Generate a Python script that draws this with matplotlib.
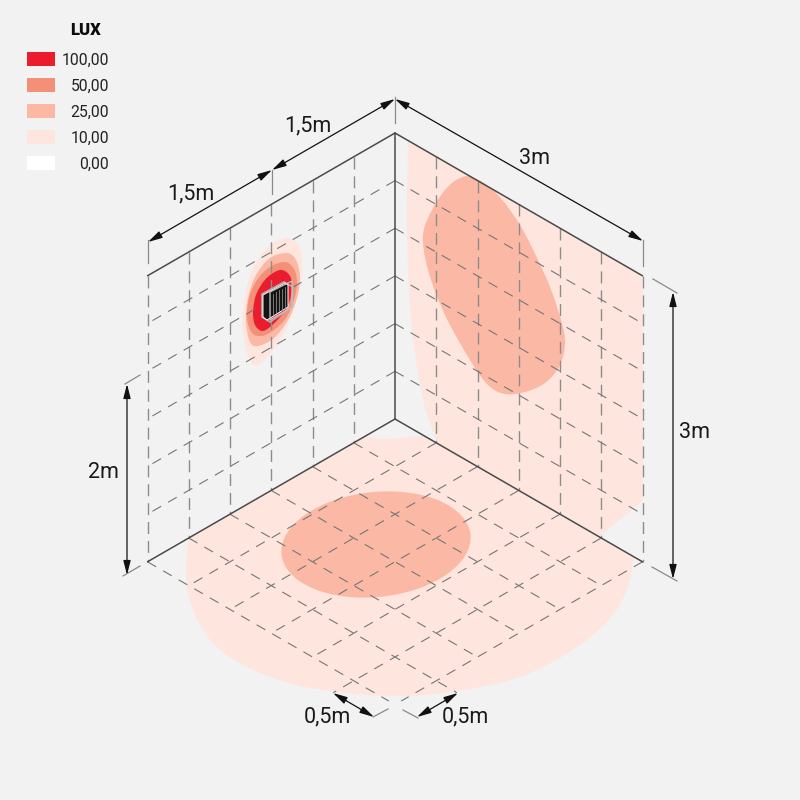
import numpy as np
import matplotlib
matplotlib.use("Agg")
import matplotlib.pyplot as plt
from matplotlib.path import Path
from matplotlib.patches import PathPatch, Rectangle, Ellipse, Polygon

plt.rcParams['font.family'] = ['Roboto', 'DejaVu Sans']

BG = '#F2F2F2'
legend_levels = ['100,00', '50,00', '25,00', '10,00', '0,00']
legend_colors = ['#EA1C2E', '#F48F78', '#FBB9A5', '#FEE6DE', '#FFFFFF']
C100, C50, C25, C10, C0 = legend_colors

# room geometry
apex = (395, 419)
top_apex = (395, 133)
dx, dy, dz = 41.25, 23.8, 47.67
n = 6

def floor(i, j):
    return (apex[0] + (i - j) * dx, apex[1] + (i + j) * dy)

def left_wall(j, k):
    return (apex[0] - j * dx, apex[1] + j * dy - k * dz)

def right_wall(i, k):
    return (apex[0] + i * dx, apex[1] + i * dy - k * dz)

# light outlines (pixels of the reference)
floor10_curve = [(188, 538), (186, 575), (193, 610), (212, 642), (245, 666), (300, 686), (385, 696), (450, 692),
                 (520, 677), (580, 645), (615, 612), (629, 583), (634, 557)]
floor10_edge = [(425, 436)]
floor10_top = [(420, 436), (383, 439), (367, 436)]
wall10_left = [(437, 443), (422, 395), (411, 320), (407, 230), (408, 140)]
wall10_right = [(643, 500), (627, 514), (600, 536)]
wall25 = [(432, 210), (445, 190), (458, 179), (472, 177), (495, 192), (520, 225), (545, 275), (558, 310), (565, 340),
          (560, 365), (545, 383), (525, 392), (505, 394), (488, 385), (470, 360), (445, 315), (428, 270), (423, 235)]
floor25_center = (376, 544.5)
floor25_size = (190, 105)
floor25_angle = -6
spot10 = [(288, 238), (297, 243), (302, 258), (300, 285), (292, 315), (278, 343), (258, 365), (249, 358), (243, 335),
          (243, 310), (250, 275), (265, 250), (277, 241)]
spot25 = [(287, 253), (296, 260), (300, 277), (297, 298), (288, 320), (274, 338), (258, 346), (250, 342), (246, 322),
          (248, 298), (256, 275), (270, 258)]
spot50 = [(285, 262), (294, 269), (297, 283), (294, 300), (286, 318), (274, 330), (262, 336), (252, 333), (247, 318),
          (249, 298), (257, 280), (270, 267)]
spot100 = [(282, 270), (290, 276), (292, 288), (289, 303), (281, 316), (270, 327), (262, 331), (255, 325), (253, 312),
           (256, 295), (264, 281), (273, 273)]
# radiator
rad_frame = [(262, 294), (284, 282), (293, 287), (292, 307), (270, 322), (262, 317)]
rad_back = [(270, 292), (292, 281), (292, 307), (270, 320)]
rad_body = [(263, 295), (285, 283), (288, 285), (288, 307), (267, 320), (263, 317)]
rad_fin_x = [270, 273, 276, 279, 282, 285]


def catmull(pts, closed=False):
    p = np.asarray(pts, float)
    if closed:
        q = np.vstack([p[-1], p, p[0], p[1]])
    else:
        q = np.vstack([2 * p[0] - p[1], p, 2 * p[-1] - p[-2]])
    verts, codes = [tuple(q[1])], [Path.MOVETO]
    for a, b, c, d in zip(q[:-3], q[1:-2], q[2:-1], q[3:]):
        verts += [tuple(b + (c - a) / 6), tuple(c - (d - b) / 6), tuple(c)]
        codes += [Path.CURVE4] * 3
    return verts, codes


def chain(*parts):
    """parts: ('c', pts) smooth piece, ('l', pts) straight piece"""
    verts, codes = [], []
    for kind, pts in parts:
        if kind == 'c':
            v, c = catmull(pts)
            if verts:
                c[0] = Path.LINETO
        else:
            v, c = list(pts), [Path.LINETO] * len(pts)
            if not verts:
                c[0] = Path.MOVETO
        verts += v
        codes += c
    verts.append(verts[0])
    codes.append(Path.CLOSEPOLY)
    return Path(verts, codes)


fig = plt.figure(figsize=(8, 8), dpi=100, facecolor=BG)
ax = fig.add_axes([0, 0, 1, 1])
ax.set_xlim(0, 800)
ax.set_ylim(800, 0)
ax.axis('off')

# light fields
ax.add_patch(PathPatch(chain(('c', floor10_curve), ('l', [floor10_edge[0]]), ('c', floor10_top)), fc=C10, ec='none', zorder=1))
ax.add_patch(PathPatch(chain(('c', wall10_left), ('l', [right_wall(n, n)]), ('c', wall10_right)), fc=C10, ec='none', zorder=1))
ax.add_patch(Ellipse(floor25_center, floor25_size[0], floor25_size[1], angle=floor25_angle, fc=C25, ec='none', zorder=2))
v, c = catmull(wall25, closed=True)
ax.add_patch(PathPatch(Path(v, c), fc=C25, ec='none', zorder=2))
for pts, col in [(spot10, C10), (spot25, C25), (spot50, C50), (spot100, C100)]:
    v, c = catmull(pts, closed=True)
    ax.add_patch(PathPatch(Path(v, c), fc=col, ec='none', zorder=2))

# dashed grid
dash = dict(color='#767676', lw=0.8, ls=(0, (9, 7.2)), zorder=3)
vdash = dict(color='#8c8c8c', lw=1.0, ls=(0, (8.6, 5)), zorder=3)
for t in range(n + 1):
    # floor lines; the fifth ones run out past the front edges
    end = {0: 0, 5: 6.5, 6: 5.85}.get(t, n)
    if t > 0:
        a, b = floor(t, 0), floor(t, end)
        ax.plot([a[0], b[0]], [a[1], b[1]], **dash)
        a, b = floor(0, t), floor(end, t)
        ax.plot([a[0], b[0]], [a[1], b[1]], **dash)
for t in range(1, n + 1):
    a, b = left_wall(t, n), left_wall(t, 0)
    ax.plot([a[0], b[0]], [a[1], b[1]], **vdash)
    a, b = right_wall(t, n), right_wall(t, 0)
    ax.plot([a[0], b[0]], [a[1], b[1]], **vdash)
for k in range(1, n):
    a, b = left_wall(0, k), left_wall(n, k)
    ax.plot([a[0], b[0]], [a[1], b[1]], **dash)
    a, b = right_wall(0, k), right_wall(n, k)
    ax.plot([a[0], b[0]], [a[1], b[1]], **dash)

# solid room edges
solid = dict(color='#4a4a4a', lw=1.1, zorder=4, solid_capstyle='round')
for a, b in [(left_wall(n, n), top_apex), (top_apex, right_wall(n, n)), (top_apex, apex),
             (left_wall(n, 0), apex), (apex, right_wall(n, 0))]:
    ax.plot([a[0], b[0]], [a[1], b[1]], **solid)

# radiator
ax.add_patch(Polygon(rad_frame, closed=True, fc='none', ec='#b0b0b0', lw=1.2, zorder=5))
ax.add_patch(Polygon(rad_body, closed=True, fc='#141414', ec='white', lw=0.7, zorder=6))
ax.add_patch(Polygon(rad_back, closed=True, fc='none', ec='#c4c4c4', lw=0.9, zorder=7))
for x in rad_fin_x:
    top = 296 - (x - 263) * 0.545
    ax.plot([x, x], [top + 3, top + 24], color='#8a8a8a', lw=0.6, zorder=7)

# extension ticks
tick = dict(color='#8a8a8a', lw=0.9, zorder=3)
for (x0, y0, x1, y1) in [(148, 240, 148, 263), (272, 170, 272, 194), (395, 97, 395, 123), (643, 240, 643, 266),
                         (653, 279, 677, 293), (652, 567, 677, 581), (123, 576, 140, 566), (125, 384, 140, 375),
                         (373, 717, 388, 709), (418, 718, 403, 710)]:
    ax.plot([x0, x1], [y0, y1], **tick)

# dimension arrows
def dim(p, q):
    ax.annotate('', xy=q, xytext=p, zorder=8,
                arrowprops=dict(arrowstyle='<|-|>,head_length=0.86,head_width=0.22', color='#111111', lw=0.9,
                                mutation_scale=10, shrinkA=0, shrinkB=0))

dim((148, 242), (272, 170))
dim((272, 170), (395, 99))
dim((395, 99), (643, 241))
dim((673, 292), (673, 579))
dim((127, 384), (127, 575))
dim((333, 693), (374, 717))
dim((458, 693), (417, 717))

dim_labels = [('1,5m', 191, 194), ('1,5m', 308, 126), ('3m', 535, 159), ('3m', 695, 433), ('2m', 103, 473),
              ('0,5m', 327, 717), ('0,5m', 465, 717)]
for s, x, y in dim_labels:
    ax.text(x, y, s, ha='center', va='center', fontsize=15.5, color='#1a1a1a', zorder=9)

# legend
ax.text(85.5, 30, 'LUX', ha='center', va='center', fontsize=12, fontweight='black', color='#0d0d0d')
for i, (lab, col) in enumerate(zip(legend_levels, legend_colors)):
    yc = 58.5 + 26 * i
    ax.add_patch(Rectangle((27, yc - 7), 28, 14, fc=col, ec='none'))
    ax.text(109, yc + 1.5, lab, ha='right', va='center', fontsize=11.3, color='#222222')

fig.savefig('out.png', dpi=100, facecolor=BG)
